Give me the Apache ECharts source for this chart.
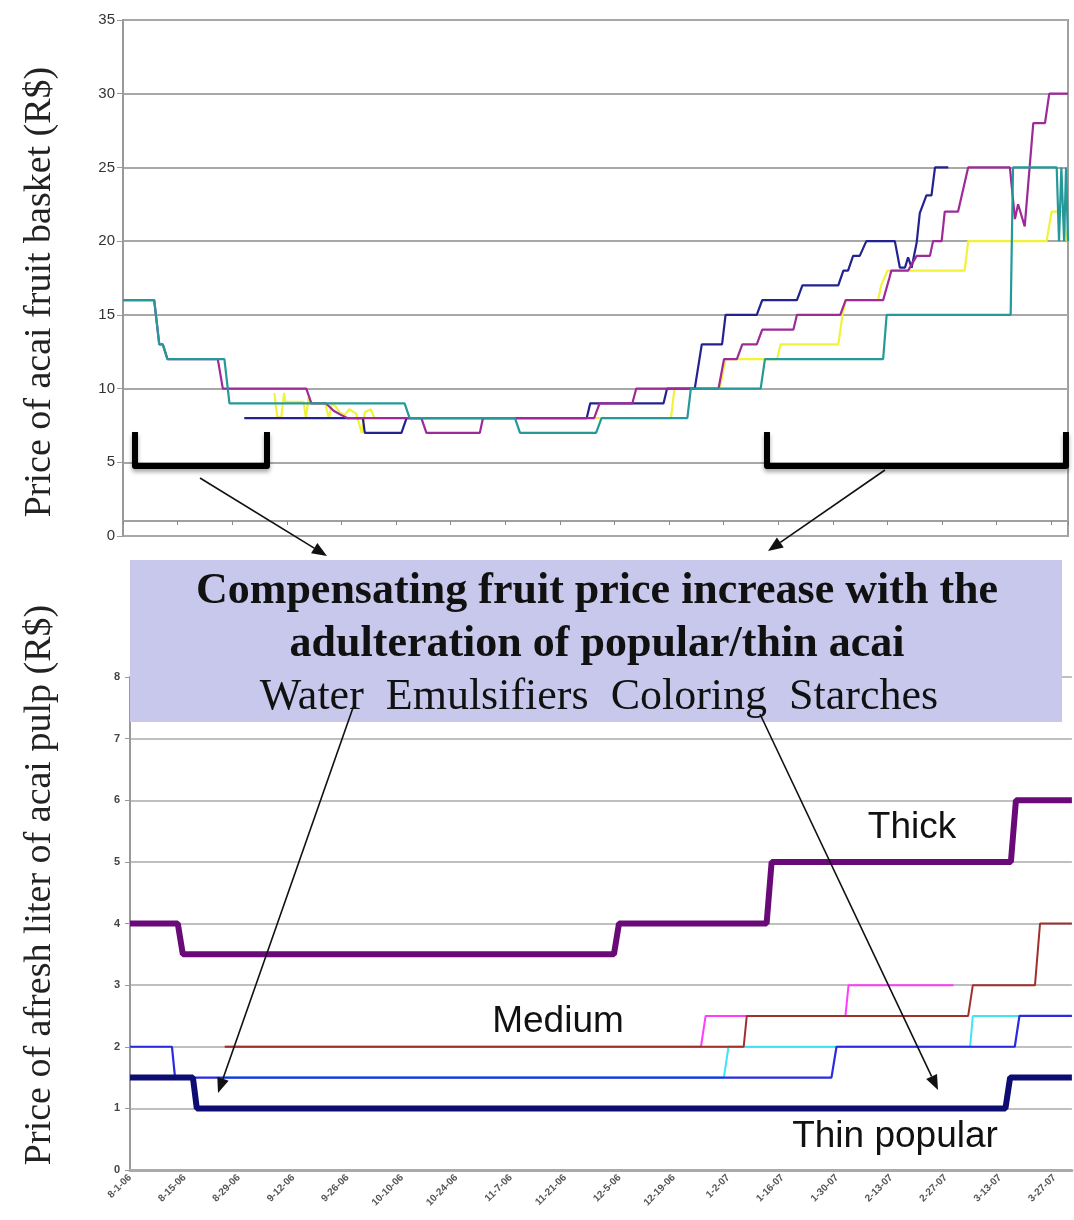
<!DOCTYPE html>
<html>
<head>
<meta charset="utf-8">
<script src="https://cdn.jsdelivr.net/npm/echarts@6/dist/echarts.min.js"></script>
<style>
  body { margin: 0; background: #fff; }
  #main { width: 1074px; height: 1220px; }
</style>
</head>
<body>
<div id="main"></div>
<script>
// dates every 14 days, starting 8-1-06 (x = days since 8-1-06)
const dateLabels = ['8-1-06', '8-15-06', '8-29-06', '9-12-06', '9-26-06', '10-10-06', '10-24-06', '11-7-06',
  '11-21-06', '12-5-06', '12-19-06', '1-2-07', '1-16-07', '1-30-07', '2-13-07', '2-27-07', '3-13-07', '3-27-07'];

// acai fruit basket price (R$), [day, price]
const basketYellow = [[38.8, 9.7], [39.6, 8], [40.6, 8.1], [41.3, 9.7], [41.6, 9.1], [46.3, 9.1], [46.9, 8], [47.6, 9.4],
  [48, 9], [51.8, 9], [52.8, 8], [53.6, 9], [54.5, 8.8], [55.5, 8.4], [56.8, 8.2], [58, 8.6], [59.8, 8.3], [61.2, 7],
  [62, 8.4], [63.5, 8.6], [64.5, 8], [140.5, 8], [141.4, 10], [153, 10], [154.5, 12], [167.7, 12], [168.6, 13],
  [183.4, 13], [184.5, 15], [185.3, 16], [193.6, 16], [194.4, 17], [196, 18], [215.8, 18], [216.7, 20], [236.8, 20],
  [238.1, 22], [241, 22], [242, 20]];
const basketNavy = [[31.1, 8], [61.5, 8], [62, 7], [71.4, 7], [72.7, 8], [118.9, 8], [119.8, 9], [138.6, 9], [139.5, 10],
  [146.6, 10], [148.4, 13], [153.6, 13], [154.5, 15], [162.5, 15], [163.9, 16], [172.8, 16], [174.2, 17], [183.4, 17],
  [184.7, 18], [185.9, 18], [187.2, 19], [188.9, 19], [190.6, 20], [197.9, 20], [199.2, 18.2], [200.5, 18.2],
  [201.3, 18.9], [202.2, 18.2], [203.5, 19.9], [204.3, 21.9], [206, 23.1], [207.3, 23.1], [208.2, 25], [211.6, 25]];
const basketPurple = [[0, 16], [8, 16], [9.3, 13], [10.2, 13], [11.4, 12], [24.3, 12], [25.6, 10], [47, 10], [48.3, 9],
  [52, 9], [54, 8.5], [56, 8.2], [57.5, 8], [76.5, 8], [77.8, 7], [91.5, 7], [92.3, 8], [120.8, 8], [122.2, 9],
  [130.6, 9], [131.6, 10], [152.7, 10], [154.1, 12], [157.4, 12], [158.8, 13], [162.5, 13], [163.9, 14], [171.9, 14],
  [172.8, 15], [183.9, 15], [185.3, 16], [194.9, 16], [196.5, 17.5], [197, 18], [201.3, 18], [203.5, 19], [206.9, 19],
  [207.7, 20], [209.9, 20], [210.7, 22], [214.1, 22], [216.7, 25], [227.4, 25], [228.7, 21.5], [229.5, 22.5],
  [231.2, 21], [233.4, 28], [236.4, 28], [237.5, 30], [242.3, 30]];
const basketTeal = [[0, 16], [8, 16], [9.3, 13], [10.2, 13], [11.4, 12], [26, 12], [27.3, 9], [72.2, 9], [73.5, 8],
  [100.5, 8], [101.8, 7], [121.3, 7], [122.7, 8], [144.7, 8], [145.6, 10], [163.5, 10], [164.6, 12], [194.9, 12],
  [195.8, 15], [227.6, 15], [228.2, 25], [239.4, 25], [240, 20], [240.6, 25], [241.3, 20], [241.8, 25], [242.3, 20]];

// fresh acai pulp price per liter (R$), [day, price]
const pulpMagenta = [[24.4, 2], [147, 2], [148.2, 2.5], [184.2, 2.5], [185, 3], [212, 3]];
const pulpCyan = [[24.4, 1.5], [152.9, 1.5], [154.1, 2], [216.3, 2], [217, 2.5], [242.5, 2.5]];
const pulpBrown = [[24.4, 2], [158, 2], [158.8, 2.5], [215.8, 2.5], [217, 3], [233, 3], [234.3, 4], [242.5, 4]];
const pulpBlue = [[0, 2], [10.8, 2], [11.6, 1.5], [180.6, 1.5], [181.9, 2], [227.8, 2], [229, 2.5], [242.5, 2.5]];
const pulpThin = [[0, 1.5], [16.2, 1.5], [17.2, 1], [225.4, 1], [226.6, 1.5], [242.5, 1.5]];
const pulpThick = [[0, 4], [12.3, 4], [13.6, 3.5], [124.6, 3.5], [125.9, 4], [163.9, 4], [165.2, 5], [226.8, 5],
  [228.1, 6], [242.5, 6]];

const chart = echarts.init(document.getElementById('main'));

function line(data, color, width, g) {
  return {
    type: 'line', data: data, xAxisIndex: g, yAxisIndex: g,
    symbol: 'none', lineStyle: { color: color, width: width }, itemStyle: { color: color },
    silent: true
  };
}

function arrow(x1, y1, x2, y2) {
  var a = Math.atan2(y2 - y1, x2 - x1), L = 15, W = 6;
  var bx = x2 - L * Math.cos(a), by = y2 - L * Math.sin(a);
  var px = -Math.sin(a) * W, py = Math.cos(a) * W;
  return [
    { type: 'line', z: 100, shape: { x1: x1, y1: y1, x2: bx, y2: by }, style: { stroke: '#111', lineWidth: 1.6 } },
    { type: 'polygon', z: 100, shape: { points: [[x2, y2], [bx + px, by + py], [bx - px, by - py]] }, style: { fill: '#111' } }
  ];
}

function bracket(x1, x2, yTop, yBot) {
  return {
    type: 'polyline', z: 100,
    shape: { points: [[x1, yTop], [x1, yBot], [x2, yBot], [x2, yTop]] },
    style: { stroke: '#000', lineWidth: 6, lineJoin: 'round', fill: null,
      shadowBlur: 4, shadowColor: 'rgba(0,0,0,0.35)', shadowOffsetY: 3 }
  };
}

function label(text, x, y, font) {
  return { type: 'text', z: 101, x: x, y: y,
    style: { text: text, font: font, fill: '#111', align: 'center', verticalAlign: 'middle' } };
}

var serifB = 'bold 44px "Liberation Serif"';
var titleFont = '38px "Liberation Serif"';
var sansFont = '37px "Liberation Sans"';
var graphics = [
  // y axis titles
  { type: 'text', z: 101, x: 40, y: 292, rotation: Math.PI / 2,
    style: { text: 'Price of acai fruit basket (R$)', font: titleFont, fill: '#222', align: 'center', verticalAlign: 'middle' } },
  { type: 'text', z: 101, x: 40, y: 885, rotation: Math.PI / 2,
    style: { text: 'Price of afresh liter of acai pulp (R$)', font: titleFont, fill: '#222', align: 'center', verticalAlign: 'middle' } },
  // note box
  { type: 'rect', z: 99, shape: { x: 130, y: 560, width: 932, height: 162 }, style: { fill: '#c8c8ec' } },
  label('Compensating fruit price increase with the', 597, 592, serifB),
  label('adulteration of popular/thin acai', 597, 645, serifB),
  label('Water  Emulsifiers  Coloring  Starches', 599, 697, '44px "Liberation Serif"'),
  bracket(135, 267, 432, 466),
  bracket(767, 1066, 432, 466),
  label('Thick', 912, 828, sansFont),
  label('Medium', 558, 1022, sansFont),
  label('Thin popular', 895, 1137, sansFont)
].concat(arrow(200, 478, 327, 556), arrow(885, 470, 768, 551),
  arrow(355, 702, 218, 1093), arrow(760, 714, 938, 1090));

var option = {
  animation: false,
  backgroundColor: '#fff',
  grid: [
    { left: 123, top: 20, width: 945, height: 516, show: true, borderColor: '#a0a0a0', borderWidth: 2 },
    { left: 130, top: 677, right: 0, height: 493 }
  ],
  xAxis: [
    { gridIndex: 0, type: 'value', min: 0, max: 242.3, interval: 14, offset: -15,
      axisLine: { lineStyle: { color: '#a0a0a0', width: 2 } },
      axisTick: { length: 4, lineStyle: { color: '#888' } },
      axisLabel: { show: false }, splitLine: { show: false } },
    { gridIndex: 1, type: 'value', min: 0, max: 242.5, interval: 14,
      axisLine: { lineStyle: { color: '#aaa', width: 3 } },
      axisTick: { show: false },
      axisLabel: { rotate: 45, fontSize: 10, color: '#555', fontWeight: 'bold', margin: 6,
        formatter: function (v) { return v % 14 === 0 ? (dateLabels[v / 14] || '') : ''; } },
      splitLine: { show: false } }
  ],
  yAxis: [
    { gridIndex: 0, type: 'value', min: 0, max: 35, interval: 5,
      axisLine: { show: true, lineStyle: { color: '#999', width: 2 } },
      axisTick: { show: true, length: 6, lineStyle: { color: '#999' } },
      axisLabel: { fontSize: 15, color: '#333', fontFamily: 'Liberation Sans', margin: 8 },
      splitLine: { lineStyle: { color: '#a8a8a8', width: 2 } } },
    { gridIndex: 1, type: 'value', min: 0, max: 8, interval: 1,
      axisLine: { show: true, lineStyle: { color: '#999', width: 2 } },
      axisTick: { show: true, length: 5, lineStyle: { color: '#999' } },
      axisLabel: { fontSize: 11, color: '#444', fontWeight: 'bold', margin: 10 },
      splitLine: { lineStyle: { color: '#aaa', width: 1.5 } } }
  ],
  graphic: graphics,
  series: [
    line(basketYellow, '#f2f23a', 2.2, 0),
    line(basketNavy, '#23238f', 2.2, 0),
    line(basketPurple, '#9e2a98', 2.2, 0),
    line(basketTeal, '#25999a', 2.2, 0),
    line(pulpMagenta, '#ff3cff', 2, 1),
    line(pulpCyan, '#3ce6f2', 2, 1),
    line(pulpBrown, '#a0302c', 2, 1),
    line(pulpBlue, '#2a2ae0', 2.2, 1),
    line(pulpThin, '#0c0c72', 6, 1),
    line(pulpThick, '#6a0a78', 6, 1)
  ]
};
chart.setOption(option);
</script>
</body>
</html>
